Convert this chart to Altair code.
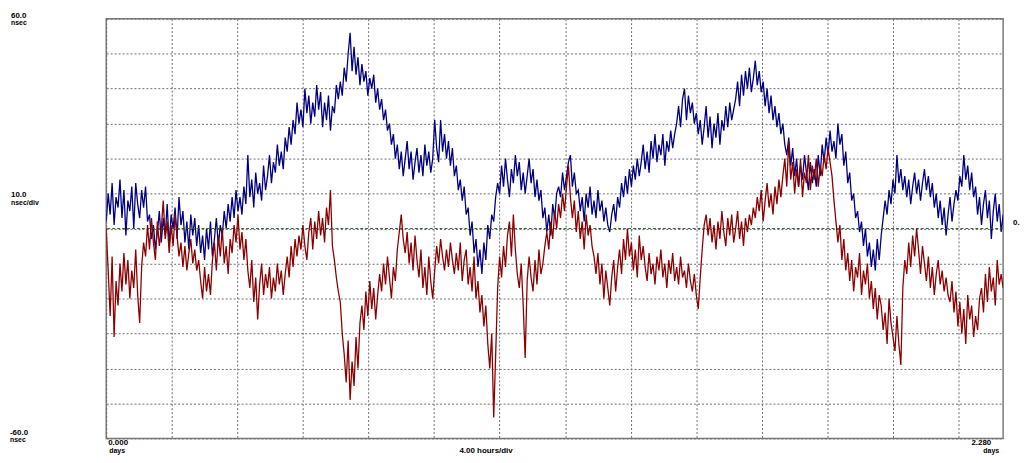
import altair as alt
import pandas as pd

# Series values in nsec, sampled every 0.005 day (0.000 .. 2.280 days)
blue = [2, 10, 4, 13, 1, 9, 6, 14, 3, 11,
        -2, 8, 5, 12, 0, 13, 7, 3, 11, 6,
        12, 2, 4, -3, 1, -6, -1, 5, -4, 3,
        -2, 7, -5, 4, 0, 6, -3, 9, 1, 5,
        -4, 2, -6, 4, -2, 3, -5, 1, -7, -2,
        -9, 0, -6, 2, -8, -3, 3, -5, 1, -2,
        5, 0, 7, 2, 9, 3, 11, 5, 9, 4,
        12, 7, 21, 9, 14, 6, 16, 10, 13, 8,
        18, 11, 15, 21, 13, 19, 16, 24, 18, 22,
        17, 26, 22, 29, 24, 31, 27, 36, 30, 34,
        29, 40, 33, 38, 30, 36, 32, 41, 34, 39,
        29, 36, 31, 38, 28, 35, 33, 41, 37, 42,
        38, 46, 42, 50, 56, 45, 52, 44, 49, 41,
        47, 42, 45, 38, 43, 40, 44, 36, 40, 34,
        37, 31, 34, 28, 30, 24, 27, 20, 24, 17,
        22, 15, 20, 25, 17, 22, 14, 19, 23, 16,
        21, 15, 24, 18, 22, 16, 20, 31, 23, 19,
        31, 22, 27, 20, 25, 18, 23, 15, 18, 11,
        14, 8, 12, 4, 6, -2, 2, -7, -3, -11,
        -6, -13, -4, -9, 1, -3, 4, 2, 9, 13,
        10, 18, 12, 20, 14, 9, 17, 13, 21, 15,
        19, 11, 16, 10, 15, 20, 13, 17, 9, 14,
        8, 11, 3, 6, -1, 4, -2, 7, 3, 10,
        12, 9, 16, 11, 15, 19, 21, 12, 16, 10,
        11, 5, 9, 2, 10, 6, 12, 4, 8, 3,
        11, 5, 8, 2, 6, 1, -1, 4, 7, 2,
        9, 6, 13, 9, 15, 10, 17, 12, 18, 14,
        20, 15, 19, 24, 17, 22, 16, 25, 20, 27,
        19, 24, 21, 27, 18, 25, 22, 28, 23, 27,
        30, 35, 29, 37, 40, 31, 38, 33, 36, 30,
        33, 27, 31, 24, 29, 35, 26, 32, 23, 30,
        26, 33, 24, 31, 28, 35, 29, 36, 31, 34,
        37, 42, 35, 44, 38, 45, 40, 46, 39, 43,
        48, 41, 45, 39, 42, 35, 40, 33, 38, 31,
        35, 29, 33, 27, 30, 24, 21, 26, 18, 23,
        15, 20, 12, 18, 14, 21, 16, 11, 19, 13,
        17, 12, 21, 15, 24, 19, 26, 21, 28, 22,
        25, 20, 30, 24, 27, 18, 22, 13, 16, 8,
        10, 3, 5, -1, 2, -5, 0, -8, -4, -11,
        -6, -12, -3, -9, -2, 3, 8, 4, 11, 7,
        14, 10, 21, 13, 17, 11, 15, 9, 14, 7,
        12, 16, 10, 14, 8, 13, 17, 11, 15, 9,
        13, 6, 10, 3, 8, 1, 6, -2, 4, 9,
        2, 7, 11, 8, 15, 12, 21, 14, 18, 11,
        16, 9, 12, 4, 9, 1, 7, 11, 3, 8,
        -3, 5, 10, 2, 7, -1, 4]

red = [0, -12, -25, -8, -31, -15, -22, -10, -18, -7,
       -16, -9, -20, -12, -17, -6, -19, -27, -11, -4,
       -8, 1, -6, 3, -4, -9, 2, -5, 0, 8,
       -3, 2, -7, 1, -5, 4, -2, -8, -4, -11,
       -5, -12, -7, -3, -10, -6, -12, -9, -15, -20,
       -11, -18, -13, -19, -9, -4, -12, -2, -8, 0,
       -10, -5, -13, -3, -7, 1, -4, 4, -6, -1,
       -9, -3, -12, -17, -9, -21, -14, -26, -16, -10,
       -19, -13, -17, -11, -20, -14, -18, -10, -16, -12,
       -19, -13, -8, -14, -5, -11, -3, -8, -2, -6,
       1, -5, -9, -1, 3, -6, 2, -3, 5, -2,
       3, -4, 6, 1, 11, -5, -9, -14, -18, -21,
       -30, -36, -44, -32, -49, -38, -45, -31, -40, -27,
       -22, -29, -18, -25, -15, -23, -17, -26, -19, -13,
       -18, -10, -16, -8, -14, -20, -11, -15, -6, -1,
       4, -3, -7, -1, -10, -4, -12, -2, -9, -14,
       -6, -17, -11, -19, -8, -15, -20, -12, -5, -10,
       -3, -8, -12, -6, -11, -4, -9, -13, -7, -12,
       -4, -15, -9, -6, -16, -11, -18, -8, -20, -15,
       -24, -19, -28, -22, -33, -40, -30, -54, -36, -17,
       -8, -14, -5, -11, -2, 2, -8, 4, -6, -13,
       -17, -10, -22, -37, -15, -8, -14, -18, -9, -16,
       -6, -13, -10, -5, -1, -6, 2, -3, 5, 0,
       7, 3, 10, 5, 12, 18, 9, 3, 8, -1,
       5, -3, 2, -6, 4, -2, 1, -5, -8, -13,
       -7, -16, -10, -20, -12, -17, -22, -14, -9, -18,
       -11, -6, -13, -3, -9, 0, -8, -4, -12, -6,
       -14, -2, -9, -5, -11, -15, -7, -13, -10, -16,
       -8, -12, -6, -14, -10, -17, -9, -13, -7, -15,
       -11, -16, -8, -14, -12, -17, -10, -15, -18, -13,
       -19, -23, -14, -6, 1, 4, -2, 3, -4, 1,
       -6, 2, -3, 5, -1, -5, 3, -2, 4, -4,
       0, 5, -3, 2, -5, 3, -1, 4, 1, 6,
       3, 9, 5, 11, 2, 8, 13, 6, 10, 4,
       12, 7, 14, 9, 15, 20, 12, 25, 14, 19,
       10, 17, 12, 20, 9, 16, 13, 21, 11, 18,
       14, 20, 12, 18, 15, 21, 17, 23, 19, 15,
       8, 2, -4, 1, -9, -3, -12, -7, -15, -9,
       -18, -11, -14, -7, -19, -12, -16, -10, -20, -15,
       -23, -17, -26, -19, -22, -29, -24, -33, -20, -27,
       -31, -35, -25, -33, -39, -17, -9, -13, -4, -11,
       -2, -8, 0, -6, -13, -5, -10, -15, -8, -17,
       -11, -19, -13, -9, -16, -12, -18, -14, -19, -21,
       -15, -24, -18, -28, -21, -30, -23, -33, -19, -26,
       -22, -31, -25, -29, -20, -17, -24, -13, -21, -11,
       -18, -14, -22, -9, -16, -13, -17]

x_grid = [i / 6 for i in range(14)]          # 4 hours/div
y_grid = list(range(-60, 61, 10))            # 10 nsec/div

n = len(blue)
days = [round(i * 0.005, 3) for i in range(n)]
df_blue = pd.DataFrame({"days": days, "nsec": blue})
df_red = pd.DataFrame({"days": days[:len(red)], "nsec": red})

W, H = 904, 423
xs = alt.Scale(domain=[0, 2.28], nice=False, zero=False)
ys = alt.Scale(domain=[-60, 60], nice=False, zero=False)

ax_x = alt.Axis(values=x_grid, labels=False, ticks=False, domain=False, title=None,
                grid=True, gridDash=[2, 2], gridColor="#6e6e6e", gridWidth=1)
ax_y = alt.Axis(values=y_grid, labels=False, ticks=False, domain=False, title=None,
                grid=True, gridDash=[2, 2], gridColor="#6e6e6e", gridWidth=1)

line_blue = alt.Chart(df_blue).mark_line(color="#000080", strokeWidth=1.3, clip=True).encode(
    x=alt.X("days:Q", scale=xs, axis=ax_x),
    y=alt.Y("nsec:Q", scale=ys, axis=ax_y),
)
line_red = alt.Chart(df_red).mark_line(color="#8b0000", strokeWidth=1.3, clip=True).encode(
    x=alt.X("days:Q", scale=xs, axis=ax_x),
    y=alt.Y("nsec:Q", scale=ys, axis=ax_y),
)
zero = alt.Chart(pd.DataFrame({"nsec": [0]})).mark_rule(
    color="#2f5f2f", strokeDash=[3, 2], strokeWidth=1).encode(
    y=alt.Y("nsec:Q", scale=ys, axis=ax_y))


def label(txt, x, y, size=8, bold=True, align="left"):
    return alt.Chart(pd.DataFrame({"t": [txt]})).mark_text(
        align=align, baseline="alphabetic", font="Liberation Sans", fontSize=size,
        fontWeight="bold" if bold else "normal", fill="#000000"
    ).encode(text="t:N", x=alt.value(x), y=alt.value(y), color=alt.value("#000000"))


labels = [
    label("60.0", -96, -1),
    label("nsec", -96, 6, size=7),
    label("10.0", -96, 180),
    label("nsec/div", -96, 188, size=7),
    label("-60.0", -97, 420),
    label("nsec", -97, 427, size=7),
    label("0.000", 2, 430),
    label("days", 3, 438, size=7),
    label("4.00 hours/div", 356, 438),
    label("2.280", 892, 430, align="right"),
    label("days", 884, 438, size=7),
    label("0.", 914, 208),
]

chart = alt.layer(line_blue, zero, line_red, *labels).properties(
    width=W, height=H,
    autosize=alt.AutoSizeParams(type="none"),
    padding={"left": 99, "top": 9, "right": 17, "bottom": 23},
    background="#ffffff",
).configure_view(stroke="#7a7a7a", strokeWidth=1.5)

chart.save("out.html", embed_options={"renderer": "svg", "actions": False})
